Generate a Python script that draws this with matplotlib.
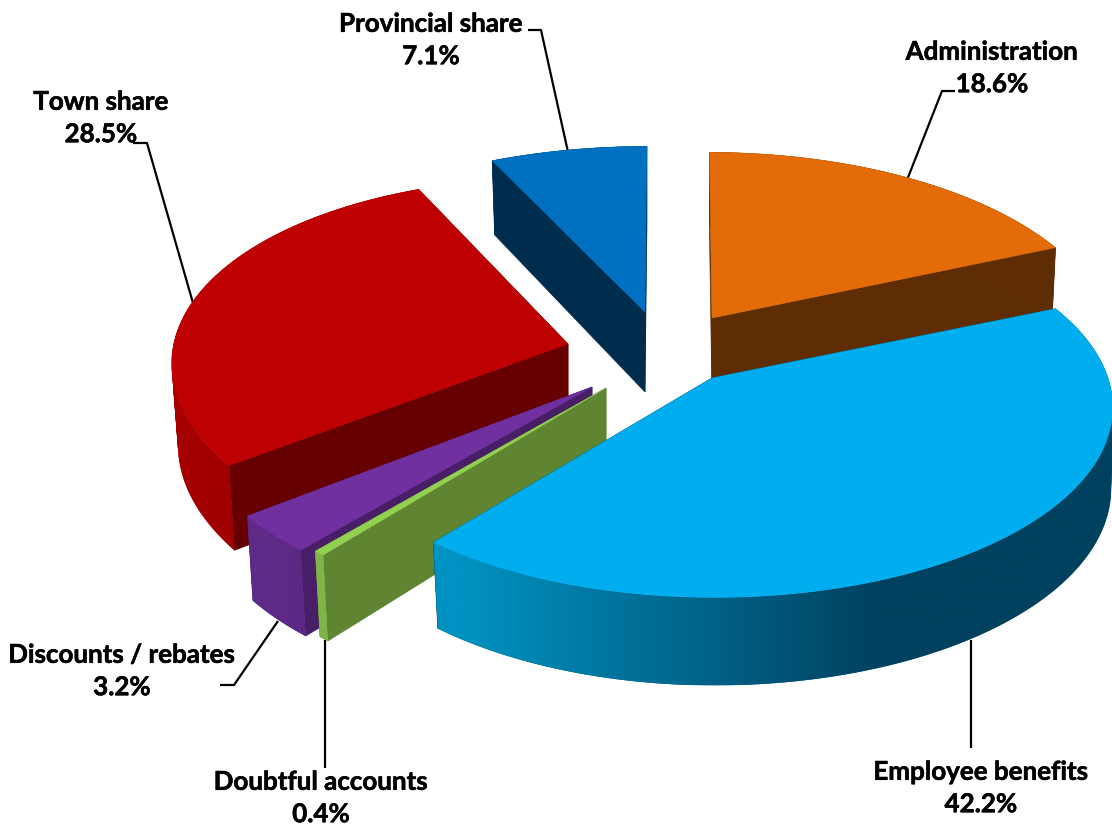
import numpy as np
import matplotlib
matplotlib.use("Agg")
import matplotlib.pyplot as plt
import matplotlib.patheffects as pe
from matplotlib.colors import to_rgb
from matplotlib.patches import PathPatch
from matplotlib.path import Path

# Budget shares, clockwise from twelve o'clock
categories = ["Administration", "Employee benefits", "Doubtful accounts",
              "Discounts / rebates", "Town share", "Provincial share"]
shares = [18.6, 42.2, 0.4, 3.2, 28.5, 7.1]

top_colors = ["#E36C09", "#00AEEF", "#92D050", "#7030A0", "#BE0000", "#0070C0"]
cut_colors = ["#5F2D04", "#00415F", "#5F8532", "#481F66", "#670000", "#002C4D"]
# Wall shading: pairs of (unit x on the rim, colour)
wall_stops = [
    [(-1, "#5F2D04"), (1, "#5F2D04")],
    [(-0.63, "#0092C2"), (0.42, "#00415F"), (1.0, "#00415F")],
    [(-0.64, "#7FB548"), (-0.62, "#7FB548")],
    [(-0.79, "#5F2A88"), (-0.65, "#5A2780")],
    [(-1, "#A80000"), (-0.78, "#9C0000")],
    [(-1, "#002C4D"), (1, "#002C4D")],
]

# Exploded position of each slice's point, in figure pixels
anchors = [(712, 318), (712, 378), (606, 388), (592, 387), (568, 344), (645, 312)]
draw_order = [5, 0, 4, 3, 2, 1]

# Perspective of the tilted disc
SCALE_X, SCALE_Y, PERSP = 396.0, 190.0, 0.147
DEPTH = 80.0
TAPER_LEFT = 0.016
# Per-slice refinements of the projection
taper_right = [0.011, 0.004, 0.0, 0.0, 0.0, 0.0]
lean_px = [-2.6, -2.6, 2.7, 3.4, 0.0, 2.0]
shear_y = [0.0, 0.0, 0.0, 0.0, 0.022, 0.0]
stretch_x = [1.0, 1.0, 1.0, 1.0, 0.99, 1.025]
stretch_y = [1.0, 0.985, 1.0, 1.0, 1.0, 1.0]

label_spots = [(992, 68), (981, 788), (321, 798), (122, 671), (101, 118), (431, 40)]
leaders = [
    [(955, 91), (942, 91), (907, 180)],
    [(971, 748), (971, 640)],
    [(325, 768), (325, 640)],
    [(220, 685), (234, 685), (278, 621)],
    [(133, 143), (147, 143), (193, 303)],
    [(528, 30), (541, 30), (568, 152)],
]


def rim(theta, i):
    """Project unit-circle angles (degrees clockwise from top) onto the page."""
    t = np.radians(theta)
    ux, uy = np.sin(t), np.cos(t)
    w = 1 + PERSP * uy
    x = stretch_x[i] * SCALE_X * ux / w + lean_px[i] * uy
    y = -stretch_y[i] * SCALE_Y * uy / w + shear_y[i] * SCALE_X * ux / w
    return x, y, w


def lower(x, y, w, i):
    """Matching points on the underside of the slice."""
    anchor = anchors[i]
    taper = np.where(x < 0, TAPER_LEFT, taper_right[i])
    return anchor[0] + x * (1 - taper), anchor[1] + y + DEPTH / w ** 0.6


def wall_path(tx, ty, bx, by):
    """Compound path of the wall's strips, all wound the same way so they add up."""
    verts, codes = [], []
    for j in range(len(tx) - 1):
        q = [(tx[j], ty[j]), (tx[j + 1], ty[j + 1]), (bx[j + 1], by[j + 1]), (bx[j], by[j])]
        xs, ys = zip(*q)
        area = sum(xs[n] * ys[(n + 1) % 4] - xs[(n + 1) % 4] * ys[n] for n in range(4))
        if area < 0:
            q = q[::-1]
        verts += q + [q[0]]
        codes += [Path.MOVETO, Path.LINETO, Path.LINETO, Path.LINETO, Path.CLOSEPOLY]
    return Path(verts, codes)


def draw_wall(ax, tx, ty, bx, by, i, zorder):
    """Outer wall: flat underlay plus a horizontal gradient clipped to its outline."""
    stops = wall_stops[i]
    path = wall_path(tx, ty, bx, by)
    rgb = np.array([to_rgb(s[1]) for s in stops])
    ax.add_patch(PathPatch(path, fc=rgb.mean(axis=0), ec="none", zorder=zorder))
    x0, x1 = path.vertices[:, 0].min(), path.vertices[:, 0].max()
    y0, y1 = path.vertices[:, 1].min(), path.vertices[:, 1].max()
    px = np.linspace(x0, x1, max(int(x1 - x0), 2))
    ux = (px - anchors[i][0]) / SCALE_X
    strip = np.column_stack([np.interp(ux, [s[0] for s in stops], rgb[:, c]) for c in range(3)])
    im = ax.imshow(strip[np.newaxis, :, :], extent=(x0, x1, y1, y0), aspect="auto",
                   interpolation="bilinear", zorder=zorder + 0.05)
    im.set_clip_path(path, transform=ax.transData)


fig = plt.figure(figsize=(11.12, 8.30), dpi=100)
ax = fig.add_axes([0, 0, 1, 1])
ax.set_xlim(0, 1112)
ax.set_ylim(830, 0)
ax.set_autoscale_on(False)
ax.axis("off")

edges = np.concatenate([[0], np.cumsum(shares)]) / np.sum(shares) * 360.0

zorder = 2
for i in draw_order:
    start, end = edges[i], edges[i + 1]
    a = anchors[i]
    theta = np.linspace(start, end, max(int((end - start) * 3), 4))
    x, y, w = rim(theta, i)
    bx, by = lower(x, y, w, i)
    tx, ty = a[0] + x, a[1] + y
    apex_low = (a[0], a[1] + DEPTH)

    # Flat cut faces
    for k in (0, -1):
        ax.fill([a[0], tx[k], bx[k], apex_low[0]], [a[1], ty[k], by[k], apex_low[1]],
                color=cut_colors[i], lw=0.5, zorder=zorder)
    draw_wall(ax, tx, ty, bx, by, i, zorder + 0.1)
    # Top face
    ax.fill(np.r_[a[0], tx], np.r_[a[1], ty], color=top_colors[i], lw=0.3,
            zorder=zorder + 0.2)
    zorder += 1

for path in leaders:
    xs, ys = zip(*path)
    ax.plot(xs, ys, color="black", lw=1.6, zorder=1, solid_capstyle="butt")

for name, share, (lx, ly) in zip(categories, shares, label_spots):
    ax.text(lx, ly, f"{name}\n{share:.1f}%", ha="center", va="center", family="Lato",
            weight="bold", fontsize=18.7, linespacing=1.42, color="black", zorder=20,
            path_effects=[pe.withStroke(linewidth=0.4, foreground="black")])

fig.savefig("out.png", dpi=100, facecolor="white")
